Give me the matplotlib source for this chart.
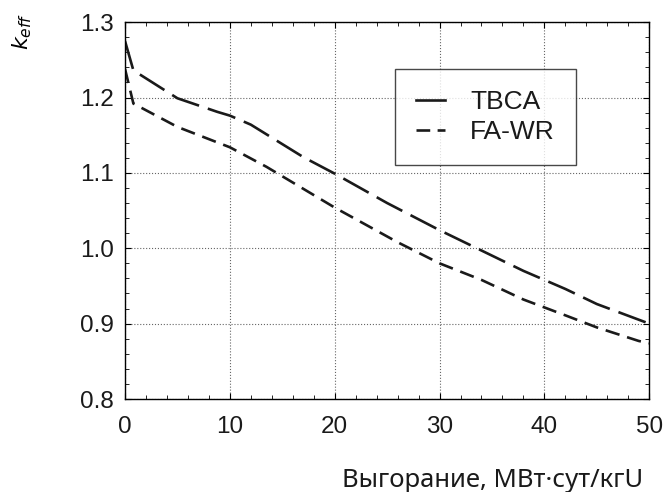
import matplotlib
matplotlib.use('Agg')
import matplotlib.pyplot as plt
from matplotlib.lines import Line2D
from matplotlib.ticker import MultipleLocator, FormatStrFormatter

# burnup (MW*day/kgU) and k_eff
tbca_x = [0, 0.8, 5, 8.8, 10, 12, 17, 20, 25, 30, 34, 38, 42, 45, 50]
tbca_k = [1.275, 1.236, 1.199, 1.181, 1.176, 1.164, 1.121, 1.099, 1.060, 1.024, 0.997, 0.970, 0.946, 0.926, 0.900]

fawr_x = [0, 0.8, 5, 10, 13.5, 20, 26, 30, 34, 38, 42, 45, 49, 50]
fawr_k = [1.238, 1.192, 1.161, 1.134, 1.108, 1.054, 1.008, 0.980, 0.958, 0.932, 0.911, 0.895, 0.877, 0.874]

legend_labels = ['TBCA', 'FA-WR']

plt.rcParams['font.family'] = ['Liberation Sans', 'DejaVu Sans']

fig = plt.figure(figsize=(6.67, 4.92), dpi=100)
ax = fig.add_axes([0.1874, 0.189, 0.786, 0.766])

lw = 1.9
ax.plot(tbca_x, tbca_k, color='#1a1a1a', lw=lw, dashes=(11, 3.5), dash_capstyle='butt')
ax.plot(fawr_x, fawr_k, color='#1a1a1a', lw=lw, dashes=(5.5, 3), dash_capstyle='butt')

ax.set_xlim(0, 50)
ax.set_ylim(0.8, 1.3)
ax.xaxis.set_major_locator(MultipleLocator(10))
ax.xaxis.set_minor_locator(MultipleLocator(2))
ax.yaxis.set_major_locator(MultipleLocator(0.1))
ax.yaxis.set_minor_locator(MultipleLocator(0.02))
ax.yaxis.set_major_formatter(FormatStrFormatter('%.1f'))
ax.tick_params(which='both', direction='in', top=True, right=True, labelsize=17.5,
               labelcolor='#1a1a1a')
ax.tick_params(axis='x', which='major', pad=12)
ax.tick_params(axis='y', which='major', pad=8)
ax.tick_params(which='major', length=4, width=0.8)
ax.tick_params(which='minor', length=3, width=0.6)
ax.grid(True, which='major', linestyle=':', color='#666666', linewidth=0.8)
for s in ax.spines.values():
    s.set_linewidth(1.0)

handles = [Line2D([], [], color='#1a1a1a', lw=lw),
           Line2D([], [], color='#1a1a1a', lw=lw, dashes=(5.2, 2.8))]
leg = ax.legend(handles, legend_labels, loc='upper left', bbox_to_anchor=(0.515, 0.875),
                borderaxespad=0, fontsize=19, frameon=True, fancybox=False,
                handlelength=1.1, borderpad=0.8, labelspacing=0.22, handletextpad=0.95)
leg.get_frame().set_edgecolor('#1a1a1a')
leg.get_frame().set_linewidth(1.0)
for t in leg.get_texts():
    t.set_color('#1a1a1a')

fig.text(0.033, 0.974, r'$k_{eff}$', rotation=90, ha='center', va='top', fontsize=16)
fig.text(0.964, 0.011, 'Выгорание, МВт·сут/кгU', ha='right', va='baseline',
         fontsize=18.5, family=['Noto Sans', 'DejaVu Sans'], color='#1a1a1a')

fig.savefig('out.png', dpi=100)
